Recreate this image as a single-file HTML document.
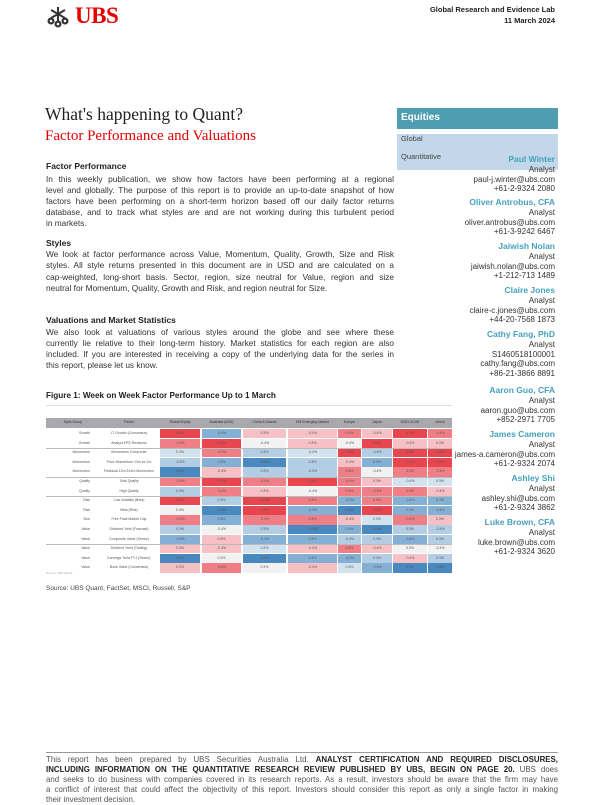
<!DOCTYPE html>
<html><head><meta charset="utf-8"><style>
*{margin:0;padding:0;box-sizing:border-box}
body{width:600px;height:800px;background:#fff;position:relative;overflow:hidden;font-family:"Liberation Sans",sans-serif;color:#333}
.a{position:absolute;white-space:nowrap}
.l{position:absolute;left:46px;width:348px;font-size:8.3px;line-height:11px;height:11px;text-align:justify;text-align-last:justify;white-space:nowrap;overflow:hidden}
.l.e{text-align-last:left}
.h{position:absolute;left:46px;font-size:8.5px;font-weight:bold;color:#222;line-height:11px}
.r{position:absolute;right:45px;text-align:right;font-size:8px;line-height:9.5px;white-space:nowrap;color:#333}
.r b{color:#45a0bd;display:block;line-height:12px;font-size:8.5px}
.c{position:absolute;height:9.2px;font-size:3.5px;line-height:9.2px;text-align:center;color:#555;overflow:hidden}
.f{position:absolute;left:46px;width:512px;font-size:7.9px;line-height:10px;height:10px;color:#555;white-space:nowrap;text-align:justify;text-align-last:justify;overflow:hidden}
</style></head><body>
<svg class="a" style="left:46px;top:5px" width="24" height="24" viewBox="0 0 24 24"><g fill="#333"><circle cx="5" cy="16" r="3.5"/><circle cx="12" cy="19" r="3.5"/><circle cx="19" cy="16" r="3.5"/><rect x="11" y="2" width="2" height="15"/><rect x="4" y="8" width="16" height="2" transform="rotate(-30 12 9)"/><rect x="4" y="8" width="16" height="2" transform="rotate(30 12 9)"/></g><g fill="#fff"><circle cx="5" cy="16" r="1.3"/><circle cx="12" cy="19" r="1.3"/><circle cx="19" cy="16" r="1.3"/></g></svg>
<div class="a" style="left:75px;top:3px;font-family:'Liberation Serif',serif;font-size:23px;font-weight:bold;color:#e60000;letter-spacing:-0.5px">UBS</div>
<div class="a" style="right:45px;top:4px;text-align:right;font-size:7.5px;font-weight:bold;line-height:11px;color:#222">Global Research and Evidence Lab<br>11 March 2024</div>
<div class="a" style="left:45px;top:104px;font-family:'Liberation Serif',serif;font-size:17.5px;color:#222">What's happening to Quant?</div>
<div class="a" style="left:45px;top:128px;font-family:'Liberation Serif',serif;font-size:15px;color:#e60000">Factor Performance and Valuations</div>
<div class="a" style="left:397px;top:108px;width:161px;height:21px;background:#4f9db0;color:#fff;font-size:10px;font-weight:bold;padding:4px 4px">Equities</div>
<div class="a" style="left:397px;top:134px;width:161px;height:36px;background:#c3d7ea;font-size:7.5px;line-height:18px;padding-left:4px;padding-top:0;color:#444"><div style="margin-top:-4px">Global<br>Quantitative</div></div>

<div class="h" style="top:161px">Factor Performance</div>
<div class="l" style="top:174px">In this weekly publication, we show how factors have been performing at a regional</div>
<div class="l" style="top:185px">level and globally. The purpose of this report is to provide an up-to-date snapshot of how</div>
<div class="l" style="top:196px">factors have been performing on a short-term horizon based off our daily factor returns</div>
<div class="l" style="top:207px">database, and to track what styles are and are not working during this turbulent period</div>
<div class="l e" style="top:218px">in markets.</div>
<div class="h" style="top:238px">Styles</div>
<div class="l" style="top:249px">We look at factor performance across Value, Momentum, Quality, Growth, Size and Risk</div>
<div class="l" style="top:260px">styles. All style returns presented in this document are in USD and are calculated on a</div>
<div class="l" style="top:272px">cap-weighted, long-short basis. Sector, region, size neutral for Value, region and size</div>
<div class="l e" style="top:283px">neutral for Momentum, Quality, Growth and Risk, and region neutral for Size.</div>
<div class="h" style="top:315px">Valuations and Market Statistics</div>
<div class="l" style="top:327px">We also look at valuations of various styles around the globe and see where these</div>
<div class="l" style="top:338px">currently lie relative to their long-term history. Market statistics for each region are also</div>
<div class="l" style="top:349px">included. If you are interested in receiving a copy of the underlying data for the series in</div>
<div class="l e" style="top:360px">this report, please let us know.</div>
<div class="h" style="top:390px;font-size:8.2px">Figure 1: Week on Week Factor Performance Up to 1 March</div>
<div class="a" style="left:46px;top:405px;width:406px;height:1px;background:#ddd"></div>

<div class="r" style="top:153px"><b>Paul Winter</b>Analyst<br>paul-j.winter@ubs.com<br>+61-2-9324 2080</div>
<div class="r" style="top:196px"><b>Oliver Antrobus, CFA</b>Analyst<br>oliver.antrobus@ubs.com<br>+61-3-9242 6467</div>
<div class="r" style="top:240px"><b>Jaiwish Nolan</b>Analyst<br>jaiwish.nolan@ubs.com<br>+1-212-713 1489</div>
<div class="r" style="top:284px"><b>Claire Jones</b>Analyst<br>claire-c.jones@ubs.com<br>+44-20-7568 1873</div>
<div class="r" style="top:328px"><b>Cathy Fang, PhD</b>Analyst<br>S1460518100001<br>cathy.fang@ubs.com<br>+86-21-3866 8891</div>
<div class="r" style="top:384px"><b>Aaron Guo, CFA</b>Analyst<br>aaron.guo@ubs.com<br>+852-2971 7705</div>
<div class="r" style="top:428px"><b>James Cameron</b>Analyst<br>james-a.cameron@ubs.com<br>+61-2-9324 2074</div>
<div class="r" style="top:472px"><b>Ashley Shi</b>Analyst<br>ashley.shi@ubs.com<br>+61-2-9324 3862</div>
<div class="r" style="top:516px"><b>Luke Brown, CFA</b>Analyst<br>luke.brown@ubs.com<br>+61-2-9324 3620</div>

<div id="tbl"></div>
<div class="a" style="left:46px;top:585px;font-size:6.5px;color:#444">Source: UBS Quant, FactSet, MSCI, Russell, S&amp;P</div>

<div class="a" style="left:46px;top:752px;width:512px;height:1px;background:#999"></div>
<div class="f" style="top:755px">This report has been prepared by UBS Securities Australia Ltd. <b style="color:#222">ANALYST CERTIFICATION AND REQUIRED DISCLOSURES,</b></div>
<div class="f" style="top:765px"><b style="color:#222">INCLUDING INFORMATION ON THE QUANTITATIVE RESEARCH REVIEW PUBLISHED BY UBS, BEGIN ON PAGE 20.</b> UBS does</div>
<div class="f" style="top:775px">and seeks to do business with companies covered in its research reports. As a result, investors should be aware that the firm may have</div>
<div class="f" style="top:785px">a conflict of interest that could affect the objectivity of this report. Investors should consider this report as only a single factor in making</div>
<div class="f" style="top:795px;text-align-last:left">their investment decision.</div>

<script>
var C={R:'#e8464f',r:'#ef7e86',l:'#f6c0c4',w:'#f2f2f2',q:'#d3e2ef',p:'#b3cde4',b:'#85b0d6',B:'#4a88c0'};
var rows=[
['Growth','LT Growth (Consensus)','RbllrlRr'.split('')],
['Growth','Analyst EPS Revisions','rRwlwRll'.split('')],
['Momentum','Momentum Composite','qrpqRpRR'.split('')],
['Momentum','Price Momentum 12m ex 1m','pbBplbRR'.split('')],
['Momentum','Residual 12m Ex1m Momentum','Blpprwrr'.split('')],
['Quality','Total Quality','rRrRrlqq'.split('')],
['Quality','High Quality','prlwrrrl'.split('')],
['Risk','Low Volatility (Beta)','RpRrbrbb'.split('')],
['Risk','Beta (Risk)','wBRbBRbb'.split('')],
['Size','Free Float Market Cap','rbrrlqrl'.split('')],
['Value','Dividend Yield (Forecast)','pwpBbBpp'.split('')],
['Value','Composite Value (Sector)','blbbppbp'.split('')],
['Value','Dividend Yield (Trailing)','llqlrlww'.split('')],
['Value','Earnings Yield FY1 (Sector)','BwBbbplp'.split('')],
['Value','Book Value (Consensus)','lrwlqbBB'.split('')]];
var cols=[[160,40],[202,39],[243,43],[288,49],[338,23],[362,30],[393,34],[428,24]];
var hd=['Global Equity','Australia (ASX)','China A Shares','EM Emerging Market','Europe','Japan','MSCI ACWI','World'];
var h='<div class="a" style="left:46px;top:418px;width:406px;height:10px;background:#a9a9ad"></div>';
h+='<div class="c" style="left:46px;top:418px;width:54px;color:#333">Style Group</div><div class="c" style="left:100px;top:418px;width:58px;color:#333">Factor</div>';
cols.forEach(function(c,i){h+='<div class="c" style="left:'+c[0]+'px;top:418px;width:'+c[1]+'px;color:#333">'+hd[i]+'</div>';});
rows.forEach(function(r,j){var y=429+j*9.6;
h+='<div class="c" style="left:46px;top:'+y+'px;width:44px;text-align:right">'+r[0]+'</div><div class="c" style="left:100px;top:'+y+'px;width:58px">'+r[1]+'</div>';
cols.forEach(function(c,i){h+='<div class="c" style="left:'+c[0]+'px;top:'+y+'px;width:'+c[1]+'px;background:'+C[r[2][i]]+'">'+((j*3+i)%2?'-0.4%':'0.3%')+'</div>';});
if([2,5,7,12].indexOf(j)>=0)h+='<div class="a" style="left:46px;top:'+(y-0.4)+'px;width:406px;height:1px;background:#bbb"></div>';
});
h+='<div class="c" style="left:46px;top:569px;width:40px;text-align:left;font-size:3px;color:#aaa">Source: UBS Quant</div>';
document.getElementById('tbl').innerHTML=h;
</script>
</body></html>
